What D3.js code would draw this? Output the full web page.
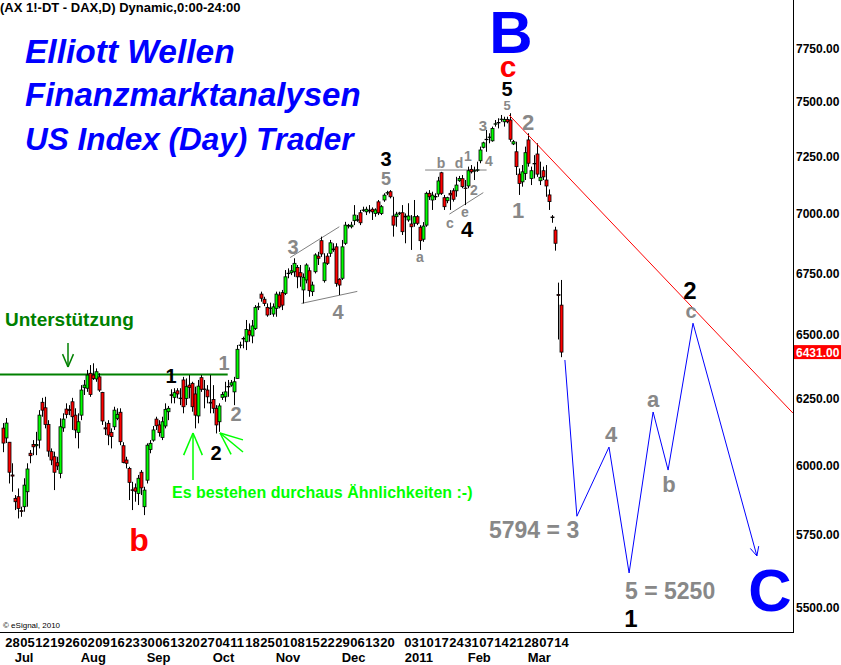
<!DOCTYPE html>
<html><head><meta charset="utf-8">
<script src="https://cdn.jsdelivr.net/npm/d3@7"></script>
<style>body{margin:0;background:#fff;}svg{display:block;}</style>
</head><body><svg id="c" width="841" height="665"></svg>
<script>
// ---------- DATA ----------
// daily OHLC [open, high, low, close], 25 Jun 2010 .. 16 Mar 2011
const ohlc = [
[6138,6157,6048,6082],[6101,6176,6082,6157],[6085,6086,5933,5974],[5964,6007,5903,5960],[5879,5891,5837,5867],
[5885,5915,5807,5843],[5835,5849,5813,5832],[5849,5952,5831,5927],[5903,6007,5849,5986],[6044,6056,6007,6035],
[6077,6093,6037,6068],[6072,6124,6037,6077],[6093,6206,6062,6187],[6236,6253,6181,6206],[6215,6257,6137,6152],
[6152,6168,6031,6052],[6050,6062,6000,6019],[6031,6050,5909,5974],[6009,6031,5982,5997],[5970,6175,5952,6143],
[6139,6194,6124,6172],[6210,6232,6175,6190],[6208,6225,6187,6205],[6238,6253,6131,6181],[6187,6213,6100,6131],
[6122,6194,6062,6162],[6187,6302,6168,6283],[6292,6322,6264,6302],[6290,6361,6276,6341],[6348,6380,6257,6266],
[6341,6387,6322,6328],[6326,6367,6315,6354],[6334,6348,6276,6283],[6274,6276,6150,6165],[6139,6162,6112,6135],
[6156,6168,6074,6112],[6122,6137,6062,6106],[6143,6219,6131,6206],[6175,6213,6168,6190],[6198,6213,6074,6087],
[6072,6085,6007,6010],[6019,6031,5988,6007],[5988,5994,5873,5937],[5910,5939,5837,5908],[5917,5933,5867,5905],
[5897,5964,5855,5952],[5974,5982,5891,5917],[5849,5921,5819,5909],[5945,6081,5933,6074],[6058,6093,6044,6081],
[6093,6146,6087,6131],[6172,6181,6131,6147],[6150,6168,6106,6121],[6103,6181,6093,6162],[6146,6232,6137,6209],
[6200,6222,6168,6213],[6265,6286,6232,6262],[6255,6290,6232,6273],[6280,6290,6251,6268],[6252,6290,6225,6250],
[6322,6334,6194,6219],[6251,6328,6225,6296],[6302,6341,6251,6293],[6309,6315,6200,6219],[6268,6296,6137,6187],
[6184,6322,6156,6298],[6331,6341,6276,6286],[6287,6322,6213,6285],[6283,6302,6232,6257],[6236,6341,6194,6233],
[6247,6302,6194,6213],[6213,6225,6118,6150],[6162,6232,6124,6222],[6255,6276,6245,6266],[6257,6315,6238,6276],
[6297,6322,6257,6295],[6302,6322,6296,6311],[6276,6334,6225,6315],[6328,6459,6328,6442],[6457,6472,6446,6459],
[6483,6492,6446,6485],[6472,6559,6439,6521],[6516,6545,6472,6499],[6495,6559,6466,6535],[6525,6619,6519,6610],
[6611,6629,6599,6613],[6664,6674,6633,6647],[6643,6653,6615,6626],[6610,6626,6572,6579],[6605,6629,6579,6607],
[6583,6626,6572,6612],[6606,6674,6572,6664],[6660,6674,6606,6612],[6670,6681,6599,6619],[6667,6763,6660,6735],
[6748,6770,6729,6750],[6752,6784,6742,6760],[6756,6812,6735,6791],[6774,6784,6688,6735],[6752,6784,6694,6735],
[6681,6749,6626,6733],[6722,6791,6708,6784],[6760,6774,6653,6678],[6674,6715,6656,6701],[6756,6833,6749,6826],
[6821,6839,6784,6812],[6886,6903,6818,6830],[6719,6833,6711,6793],[6821,6833,6784,6791],[6833,6889,6818,6877],
[6851,6875,6839,6848],[6860,6875,6694,6708],[6725,6729,6660,6701],[6729,6889,6722,6860],[6875,6966,6868,6952],
[6950,6957,6938,6948],[6945,6966,6938,6952],[6971,7038,6952,6995],[6973,6995,6966,6975],[7005,7017,6952,6962],
[7015,7031,7009,7017],[7009,7031,6995,7020],[7013,7038,7002,7015],[7020,7028,6974,7009],[7002,7024,6988,7017],
[7052,7060,6995,7005],[7002,7038,6995,7031],[7060,7089,7052,7081],[7090,7100,7081,7092],[7096,7103,7067,7074],
[6991,7074,6903,6952],[6988,7009,6945,6999],[7002,7009,6995,7004],[7005,7038,6910,6924],[6990,7002,6875,6987],
[6974,7046,6966,6991],[6957,6995,6847,6945],[6960,7060,6945,6988],[6988,6995,6952,6960],[6943,6952,6847,6886],
[6892,6965,6881,6948],[6952,7096,6945,7089],[7089,7103,7060,7074],[7060,7096,7017,7081],[7075,7089,7060,7074],
[7086,7161,7074,7143],[7179,7183,7082,7089],[7070,7082,7017,7031],[7057,7074,7046,7070],[7089,7103,7017,7082],
[7100,7111,7053,7063],[7100,7161,7074,7125],[7144,7165,7139,7154],[7153,7169,7111,7118],[7112,7147,7038,7110],
[7121,7206,7111,7188],[7194,7213,7176,7183],[7186,7206,7147,7188],[7190,7228,7183,7192],[7232,7295,7221,7280],
[7292,7317,7287,7312],[7326,7370,7272,7328],[7336,7355,7310,7338],[7321,7385,7317,7377],[7396,7415,7385,7398],
[7402,7423,7377,7404],[7417,7438,7407,7419],[7407,7430,7385,7418],[7418,7430,7400,7407],[7415,7446,7317,7328],
[7307,7325,7302,7317],[7272,7317,7169,7206],[7173,7198,7082,7132],[7139,7213,7118,7183],[7176,7295,7147,7268],
[7325,7355,7206,7221],[7154,7206,7125,7188],[7218,7257,7154,7220],[7262,7310,7161,7173],[7144,7228,7125,7159],
[7188,7206,7147,7161],[7147,7213,7074,7121],[7082,7106,7017,7053],[6987,6995,6962,6984],[6931,6945,6844,6875],
[6662,6711,6481,6658],[6619,6722,6411,6431]
];
const priceTicks = [5500,5750,6000,6250,6500,6750,7000,7250,7500,7750];
const lastPrice = 6431;
const weekLabels = ["28","05","12","19","26","02","09","16","23","30","06","13","20","27","04","11","18","25",
  "01","08","15","22","29","06","13","20","03","10","17","24","31","07","14","21","28","07","14"];
const weekDay = [2,7,12,17,22,27,32,37,42,47,52,57,62,67,72,77,82,87,92,97,102,107,112,117,122,127,
  135,140,145,150,155,160,165,170,175,180,185];
const monthLabels = ["Jul","Aug","Sep","Oct","Nov","Dec","2011","Feb","Mar"];
const monthDay = [5,27,49,71,92,114,135,156,176];
const supportLevel = 6344;            // green "Unterstützung" line
const supportSpan = [0, 76];
const trendDays = [169.8, 264.4];      // red resistance line
const trendPrices = [7438, 6195];
const projDays = [188.4,192.4,203.1,209.8,217.8,222.8,231.1,252.4];   // blue projected path
const projPrices = [6400,5815,6067,5616,6199,5982,6546,5675];
const waveLines = [ // gray wave channel lines [day0, price0, day1, price1]
  [96.8,6815,113.2,6945],[100.6,6626,119.2,6675],[141.8,7191,162.3,7191],[149.9,6999,161.2,7092]
];

// ---------- SCALES ----------
const svg = d3.select("#c");
const W = 841, H = 665, axisX = 793, plotBottom = 632;
const x = d3.scaleLinear().domain([1, 187]).range([2.7, 560.7]);
const y = d3.scaleLog().domain([5500, 7750]).range([607, 48]);
const FONT = "'Liberation Sans', Arial, sans-serif";

svg.append("rect").attr("width", W).attr("height", H).attr("fill", "#fff");

// ---------- GREEN SUPPORT ----------
svg.append("line").attr("x1", 0).attr("x2", x(supportSpan[1]))
  .attr("y1", Math.round(y(supportLevel)) + 0.5).attr("y2", Math.round(y(supportLevel)) + 0.5)
  .attr("stroke", "#008000").attr("stroke-width", 2);

// ---------- GRAY WAVE LINES ----------
svg.selectAll("line.wl").data(waveLines).join("line").attr("class", "wl")
  .attr("x1", d => x(d[0])).attr("y1", d => y(d[1])).attr("x2", d => x(d[2])).attr("y2", d => y(d[3]))
  .attr("stroke", "#808080").attr("stroke-width", 1);

// ---------- CANDLES ----------
const g = svg.append("g");
ohlc.forEach((d, i) => {
  const cx = Math.round(x(i + 1)) + 0.5;
  const [o, h, l, c] = d;
  g.append("line").attr("x1", cx).attr("x2", cx)
    .attr("y1", y(h)).attr("y2", y(l))
    .attr("stroke", "#000").attr("stroke-width", 1);
  const top = y(Math.max(o, c)), bot = y(Math.min(o, c));
  const col = c > o ? "#00ff00" : (c < o ? "#ff0000" : "#000");
  g.append("rect").attr("x", cx - 1.5).attr("y", top)
    .attr("width", 3).attr("height", Math.max(bot - top, 0.4))
    .attr("fill", col).attr("stroke", "#000").attr("stroke-width", 0.8);
});

// ---------- RED TREND LINE ----------
svg.append("line").attr("x1", x(trendDays[0])).attr("y1", y(trendPrices[0]))
  .attr("x2", x(trendDays[1])).attr("y2", y(trendPrices[1]))
  .attr("stroke", "#ff0000").attr("stroke-width", 1);

// ---------- BLUE PROJECTION ----------
const pts = projDays.map((d, i) => [x(d), y(projPrices[i])]);
svg.append("path").attr("d", d3.line()(pts)).attr("fill", "none")
  .attr("stroke", "#0000ff").attr("stroke-width", 1);
{
  const [a, b] = [pts[pts.length - 2], pts[pts.length - 1]];
  const ang = Math.atan2(b[1] - a[1], b[0] - a[0]);
  const L = 10;
  [0.45, -0.45].forEach(s => {
    svg.append("line").attr("x1", b[0]).attr("y1", b[1])
      .attr("x2", b[0] - L * Math.cos(ang + s)).attr("y2", b[1] - L * Math.sin(ang + s))
      .attr("stroke", "#0000ff").attr("stroke-width", 1);
  });
}

// ---------- AXES ----------
svg.append("line").attr("x1", axisX + 0.5).attr("x2", axisX + 0.5).attr("y1", 0).attr("y2", plotBottom)
  .attr("stroke", "#000");
svg.append("line").attr("x1", 0).attr("x2", axisX + 1).attr("y1", plotBottom + 0.5).attr("y2", plotBottom + 0.5)
  .attr("stroke", "#000");
svg.selectAll("text.yt").data(priceTicks).join("text").attr("class", "yt")
  .attr("x", axisX + 3).attr("y", d => y(d) + 4.5)
  .attr("font-family", FONT).attr("font-weight", "bold").attr("font-size", 12)
  .attr("fill", "#000").text(d => d3.format(".2f")(d));
// last price box
svg.append("rect").attr("x", axisX + 1).attr("y", y(lastPrice) - 7).attr("width", 47).attr("height", 14).attr("fill", "#ff0000");
svg.append("text").attr("x", axisX + 3).attr("y", y(lastPrice) + 4.5)
  .attr("font-family", FONT).attr("font-weight", "bold").attr("font-size", 12).attr("fill", "#fff")
  .text(d3.format(".2f")(lastPrice));
// x labels
svg.selectAll("text.wk").data(weekLabels).join("text").attr("class", "wk")
  .attr("x", (d, i) => x(weekDay[i]) - 0.5).attr("y", 647)
  .attr("font-family", FONT).attr("font-weight", "bold").attr("font-size", 13).attr("fill", "#000").text(d => d);
svg.selectAll("text.mo").data(monthLabels).join("text").attr("class", "mo")
  .attr("x", (d, i) => x(monthDay[i])).attr("y", 662)
  .attr("font-family", FONT).attr("font-weight", "bold").attr("font-size", 13).attr("fill", "#000").text(d => d);

// ---------- TEXTS ----------
svg.append("text").attr("x", 0).attr("y", 12).attr("font-family", FONT).attr("font-weight", "bold")
  .attr("font-size", 13).text("(AX 1!-DT - DAX,D) Dynamic,0:00-24:00");
svg.append("text").attr("x", 3).attr("y", 628).attr("font-family", FONT).attr("font-size", 8).text("\u00a9 eSignal, 2010");

const titles = [["Elliott Wellen", 25, 63, 33.5], ["Finanzmarktanalysen", 25, 106, 33], ["US Index (Day) Trader", 25, 150, 31.5]];
titles.forEach(t => svg.append("text").attr("x", t[1]).attr("y", t[2]).attr("font-family", FONT)
  .attr("font-weight", "bold").attr("font-style", "italic").attr("font-size", t[3]).attr("fill", "#0000ff").text(t[0]));

const GR = "#888888";
const labels = [
  ["B", 511, 53, 60, "#0000ff"], ["C", 770, 611, 60, "#0000ff"],
  ["c", 508, 77, 30, "#ff0000"], ["b", 139, 551, 32, "#ff0000"],
  ["5", 507, 96, 20, "#000"], ["5", 507, 110, 13, GR],
  ["3", 483, 131, 15, GR], ["2", 528, 130, 22, GR],
  ["3", 386, 166, 20, "#000"], ["5", 386, 185, 18, GR],
  ["b", 441, 168, 14, GR], ["d", 459, 168, 14, GR], ["1", 468, 161, 14, GR], ["4", 489, 166, 14, GR],
  ["2", 474, 195, 14, GR], ["c", 450, 228, 14, GR], ["e", 465, 217, 14, GR],
  ["4", 467, 237, 22, "#000"], ["1", 518, 218, 22, GR], ["a", 420, 262, 14, GR],
  ["3", 293, 254, 20, GR], ["4", 338, 319, 20, GR],
  ["1", 171, 383, 20, "#000"], ["1", 224, 370, 20, GR], ["2", 236, 421, 20, GR], ["2", 216, 460, 20, "#000"],
  ["4", 611, 442, 22, GR], ["a", 653, 407, 22, GR], ["b", 669, 492, 22, GR],
  ["1", 631, 627, 24, "#000"], ["2", 690, 299, 24, "#000"], ["c", 691, 318, 20, GR]
];
labels.forEach(l => svg.append("text").attr("x", l[1]).attr("y", l[2]).attr("text-anchor", "middle")
  .attr("font-family", FONT).attr("font-weight", "bold").attr("font-size", l[3]).attr("fill", l[4]).text(l[0]));

svg.append("text").attr("x", 489).attr("y", 538).attr("font-family", FONT).attr("font-weight", "bold")
  .attr("font-size", 23).attr("fill", GR).text("5794 = 3");
svg.append("text").attr("x", 625).attr("y", 599).attr("font-family", FONT).attr("font-weight", "bold")
  .attr("font-size", 23).attr("fill", GR).text("5 = 5250");
svg.append("text").attr("x", 5).attr("y", 326).attr("font-family", FONT).attr("font-weight", "bold")
  .attr("font-size", 19).attr("fill", "#008000").text("Unterstützung");
svg.append("text").attr("x", 172).attr("y", 498).attr("font-family", FONT).attr("font-weight", "bold")
  .attr("font-size", 16).attr("fill", "#00ff00").text("Es bestehen durchaus Ähnlichkeiten :-)");

// arrows
const arrow = (x1, y1, x2, y2, col, w, hl) => {
  svg.append("line").attr("x1", x1).attr("y1", y1).attr("x2", x2).attr("y2", y2).attr("stroke", col).attr("stroke-width", w);
  const ang = Math.atan2(y2 - y1, x2 - x1);
  [0.4, -0.4].forEach(s => svg.append("line").attr("x1", x2).attr("y1", y2)
    .attr("x2", x2 - hl * Math.cos(ang + s)).attr("y2", y2 - hl * Math.sin(ang + s))
    .attr("stroke", col).attr("stroke-width", w));
};
arrow(68, 343, 68, 367, "#008000", 1.5, 14);
arrow(193, 480, 193, 433, "#00ff00", 1.5, 24);
arrow(243, 452, 220, 433, "#00ff00", 1.5, 24);
</script></body></html>
